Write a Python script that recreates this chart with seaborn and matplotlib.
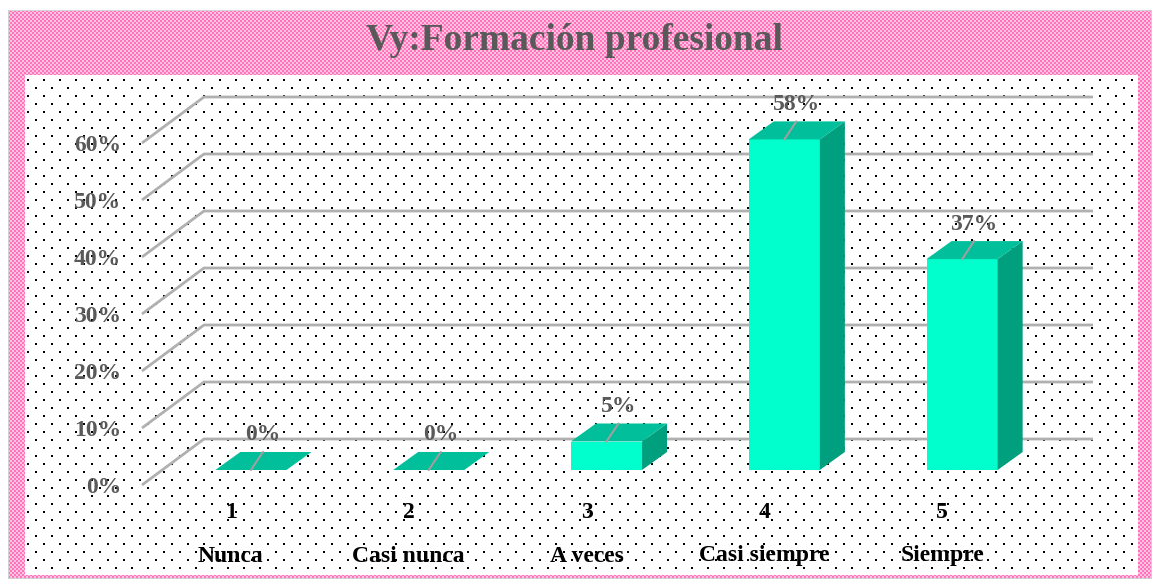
import numpy as np
import matplotlib
matplotlib.use("Agg")
import matplotlib.pyplot as plt
import seaborn as sns
from matplotlib.patches import Polygon

# Datos del grafico
niveles = ['1', '2', '3', '4', '5']
categorias = ['Nunca', 'Casi nunca', 'A veces', 'Casi siempre', 'Siempre']
porcentajes = [0.00, 0.00, 0.05, 0.58, 0.37]
etiquetas = ['0%', '0%', '5%', '58%', '37%']
marcas_y = [0.0, 0.1, 0.2, 0.3, 0.4, 0.5, 0.6]
titulo = 'Vy:Formación profesional'

W, H = 1159, 582
col_frente = '#00ffcc'
col_techo = '#00bf9a'
col_lado = '#00a07f'
col_texto = '#595959'

sns.set_theme(style='white')
plt.rcParams['font.family'] = ['Liberation Serif', 'DejaVu Serif']

fig = plt.figure(figsize=(W / 100, H / 100), dpi=100)
fig.patch.set_facecolor('white')

# Fondo: marco rosa a cuadros y zona interior punteada
yy, xx = np.mgrid[0:H, 0:W]
img = np.ones((H, W, 3))
marco = (xx >= 8) & (xx < 1152) & (yy >= 10) & (yy < 579)
rosa = np.array([255, 115, 188]) / 255
rosa_claro = np.array([255, 195, 226]) / 255
img[marco] = rosa_claro
img[marco & ((xx // 2 + yy // 2) % 2 == 0)] = rosa
interior = (xx >= 25) & (xx < 1138) & (yy >= 75) & (yy < 575)
img[interior] = 1
puntos = interior & ((((xx - 3) % 16 < 2) & ((yy - 7) % 16 < 2)) |
                     (((xx - 11) % 16 < 2) & ((yy - 15) % 16 < 2)))
img[puntos] = 0
gris = 0.82
img[10, 8:1152] = gris
img[578, 8:1152] = gris
img[10:579, 8] = gris
img[10:579, 1151] = gris
fig.figimage(img, xo=0, yo=0, origin='upper', zorder=-1)

# Ejes en el plano frontal
ax = fig.add_axes([142 / W, (H - 485) / H, 889 / W, 342 / H])
ax.patch.set_alpha(0)
sns.barplot(x=niveles, y=porcentajes, width=0.4, color=col_frente,
            saturation=1, ax=ax, zorder=3, linewidth=0)
ax.set_xlim(-0.5, 4.5)
ax.set_ylim(0, 0.6)
for s in ax.spines.values():
    s.set_visible(False)

# pixeles por unidad de datos
sx = 889 / 5
sy = 342 / 0.6
prof_x, prof_y = 62 / sx, 46 / sy       # profundidad de las paredes
ofx, ofy = 20 / sx, 15 / sy             # desplazamiento de las barras
dbx, dby = 25 / sx, 18 / sy             # profundidad de las barras

# Lineas de cuadricula (suelo + pared)
for v in marcas_y:
    ax.plot([-0.5, -0.5 + prof_x, 4.5 + prof_x], [v, v + prof_y, v + prof_y],
            color='#b0b0b0', lw=2, zorder=1, clip_on=False,
            solid_capstyle='butt')

# Barras 3D
for p, v, lab in zip(ax.patches, porcentajes, etiquetas):
    p.set_x(p.get_x() + ofx)
    p.set_y(ofy)
    p.set_clip_on(False)
    x0 = p.get_x()
    x1 = x0 + p.get_width()
    y0 = ofy
    y1 = ofy + v
    lado = Polygon([(x1, y0), (x1 + dbx, y0 + dby), (x1 + dbx, y1 + dby), (x1, y1)],
                   closed=True, facecolor=col_lado, edgecolor='none',
                   zorder=3, clip_on=False)
    techo = Polygon([(x0, y1), (x1, y1), (x1 + dbx, y1 + dby), (x0 + dbx, y1 + dby)],
                    closed=True, facecolor=col_techo, edgecolor='none',
                    zorder=4, clip_on=False)
    ax.add_patch(lado)
    ax.add_patch(techo)
    cx = (x0 + x1) / 2
    lx, ly = cx + 12 / sx, y1 + dby
    ax.plot([cx, lx], [y1, ly], color='#a0a0a0', lw=1.5, zorder=5, clip_on=False)
    ax.annotate(lab, xy=(lx, ly), xytext=(0, 17), textcoords='offset pixels',
                ha='center', va='center', fontsize=17, fontweight='bold',
                color=col_texto, zorder=6, annotation_clip=False)

# Eje y
ax.set_yticks(marcas_y)
ax.set_yticklabels([f'{int(round(v * 100))}%' for v in marcas_y])
ax.tick_params(axis='y', length=0, pad=15, labelsize=17, labelcolor=col_texto)
for t in ax.get_yticklabels():
    t.set_fontweight('bold')

# Eje x: numero y categoria
ax.set_xticks([])
ax.set_xlabel('')
ax.set_ylabel('')
for i, (n, c) in enumerate(zip(niveles, categorias)):
    ax.annotate(n, xy=(i, 0), xytext=(0, -27), textcoords='offset pixels',
                ha='center', va='center', fontsize=17, fontweight='bold',
                color='black', annotation_clip=False)
    ax.annotate(c, xy=(i, 0), xytext=(0, -71), textcoords='offset pixels',
                ha='center', va='center', fontsize=17, fontweight='bold',
                color='black', annotation_clip=False)

fig.text(574 / W, (H - 50) / H, titulo, ha='center', va='baseline',
         fontsize=27, fontweight='bold', color=col_texto)

fig.savefig('out.png', dpi=100)
